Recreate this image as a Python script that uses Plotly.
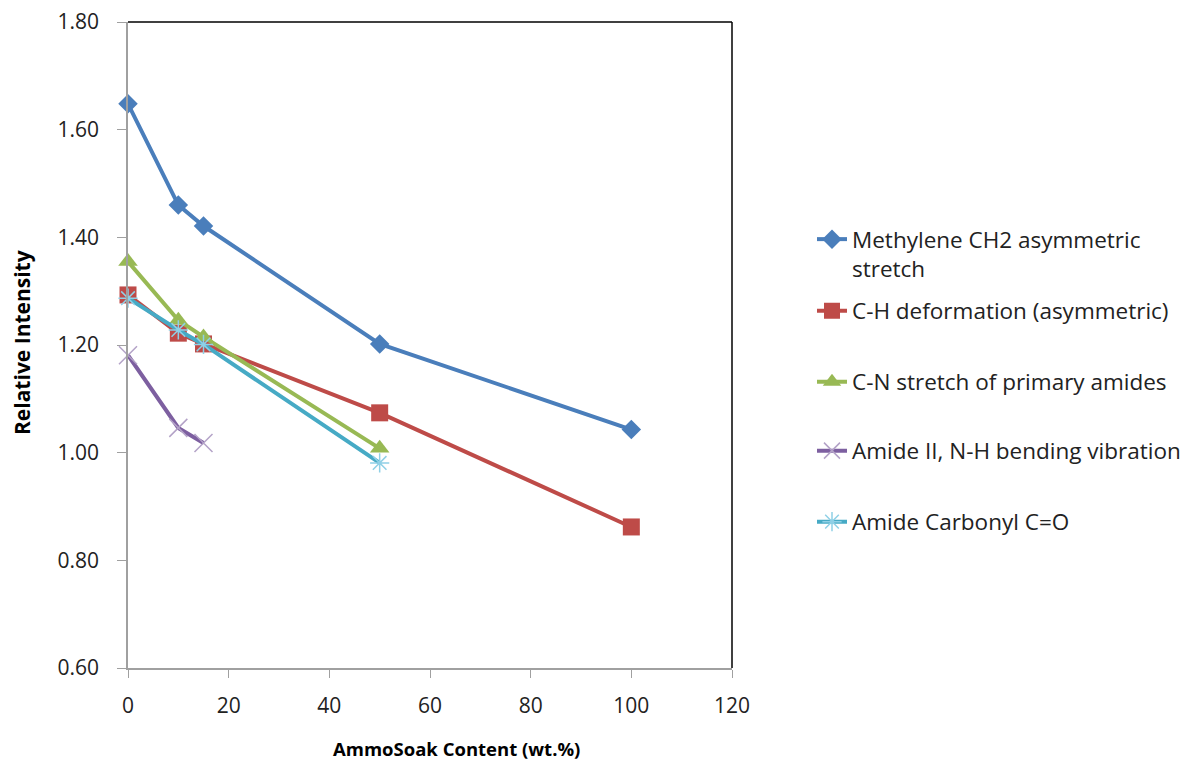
import plotly.graph_objects as go

x_full = [0, 10, 15, 50, 100]
x_part = [0, 10, 15, 50]
x_short = [0, 10, 15]

methylene = [1.648, 1.460, 1.421, 1.202, 1.043]
ch_deform = [1.293, 1.222, 1.202, 1.074, 0.862]
cn_stretch = [1.355, 1.246, 1.215, 1.008]
amide2 = [1.181, 1.046, 1.018]
carbonyl = [1.287, 1.228, 1.201, 0.981]

names = ["Methylene CH2 asymmetric<br>stretch",
         "C-H deformation (asymmetric)",
         "C-N stretch of primary amides",
         "Amide II, N-H bending vibration",
         "Amide Carbonyl C=O"]

FONT = "Open Sans"
TXT = "#222222"

fig = go.Figure()
fig.add_trace(go.Scatter(x=x_full, y=methylene, name=names[0], mode="lines+markers",
                         line=dict(color="#4A7EBB", width=4), cliponaxis=False,
                         marker=dict(symbol="diamond", size=15, color="#4A7EBB"),
                         legend="legend"))
fig.add_trace(go.Scatter(x=x_full, y=ch_deform, name=names[1], mode="lines+markers",
                         line=dict(color="#BE4B48", width=4), cliponaxis=False,
                         marker=dict(symbol="square", size=17, color="#BE4B48"),
                         legend="legend2"))
fig.add_trace(go.Scatter(x=x_part, y=cn_stretch, name=names[2], mode="lines+markers",
                         line=dict(color="#98B954", width=4), cliponaxis=False,
                         marker=dict(symbol="triangle-up", size=17, color="#98B954"),
                         legend="legend3"))
fig.add_trace(go.Scatter(x=x_short, y=amide2, name=names[3], mode="lines+markers",
                         line=dict(color="#7D5FA0", width=4), cliponaxis=False,
                         marker=dict(symbol="x-thin", size=18, color="#B3A2C7",
                                     line=dict(width=1.5, color="#B3A2C7")),
                         legend="legend4"))
fig.add_trace(go.Scatter(x=x_part, y=carbonyl, name=names[4], mode="lines+markers",
                         line=dict(color="#46AAC5", width=4), cliponaxis=False,
                         marker=dict(symbol="asterisk-open", size=16, color="#8FD0E6",
                                     line=dict(width=1.5, color="#8FD0E6")),
                         legend="legend5"))

legend_y_px = [240, 311, 382, 451, 522]
W, H = 1196, 763
common = dict(font=dict(family=FONT, size=22.5, color=TXT), bgcolor="rgba(0,0,0,0)",
              borderwidth=0, xref="container", yref="container", xanchor="left",
              yanchor="middle", valign="top")
legends = {}
for i, ypx in enumerate(legend_y_px):
    key = "legend" if i == 0 else f"legend{i+1}"
    yy = ypx
    if i == 0:
        yy = ypx + 14
    legends[key] = dict(common, x=812 / W, y=1 - yy / H)

fig.update_layout(
    width=W, height=H,
    margin=dict(l=128, r=464, t=22, b=95),
    paper_bgcolor="white", plot_bgcolor="white",
    font=dict(family=FONT, size=21, color=TXT),
    showlegend=True,
    xaxis=dict(range=[0, 120], dtick=20, tick0=0, showgrid=False, zeroline=False,
               showline=True, linecolor="#A0A0A0", linewidth=1.5, automargin=False,
               ticks="outside", ticklen=8, tickcolor="#A0A0A0", ticklabelstandoff=10,
               tickfont=dict(family=FONT, size=21, color=TXT)),
    yaxis=dict(range=[0.6, 1.8], dtick=0.2, tickformat=".2f", showgrid=False, zeroline=False,
               showline=True, linecolor="#A0A0A0", linewidth=1.5, automargin=False,
               ticks="outside", ticklen=9, tickcolor="#A0A0A0", ticklabelstandoff=14,
               tickfont=dict(family=FONT, size=21, color=TXT)),
    **legends,
)
fig.add_annotation(text="<b>AmmoSoak Content (wt.%)</b>", xref="paper", yref="paper",
                   x=(456 - 128) / 604, y=(668 - 748) / 646, xanchor="center", yanchor="middle",
                   showarrow=False, font=dict(family=FONT, size=18.5, color="#000000"))
fig.add_annotation(text="<b>Relative Intensity</b>", xref="paper", yref="paper",
                   x=(22 - 128) / 604, y=(668 - 343) / 646, xanchor="center", yanchor="middle",
                   textangle=-90, showarrow=False, font=dict(family=FONT, size=21, color="#000000"))
fig.add_shape(type="line", xref="paper", yref="paper", x0=0, x1=1, y0=1, y1=1,
              line=dict(color="#000000", width=1.5))
fig.add_shape(type="line", xref="paper", yref="paper", x0=1, x1=1, y0=0, y1=1,
              line=dict(color="#000000", width=1.5))

fig.write_html("out.html")
